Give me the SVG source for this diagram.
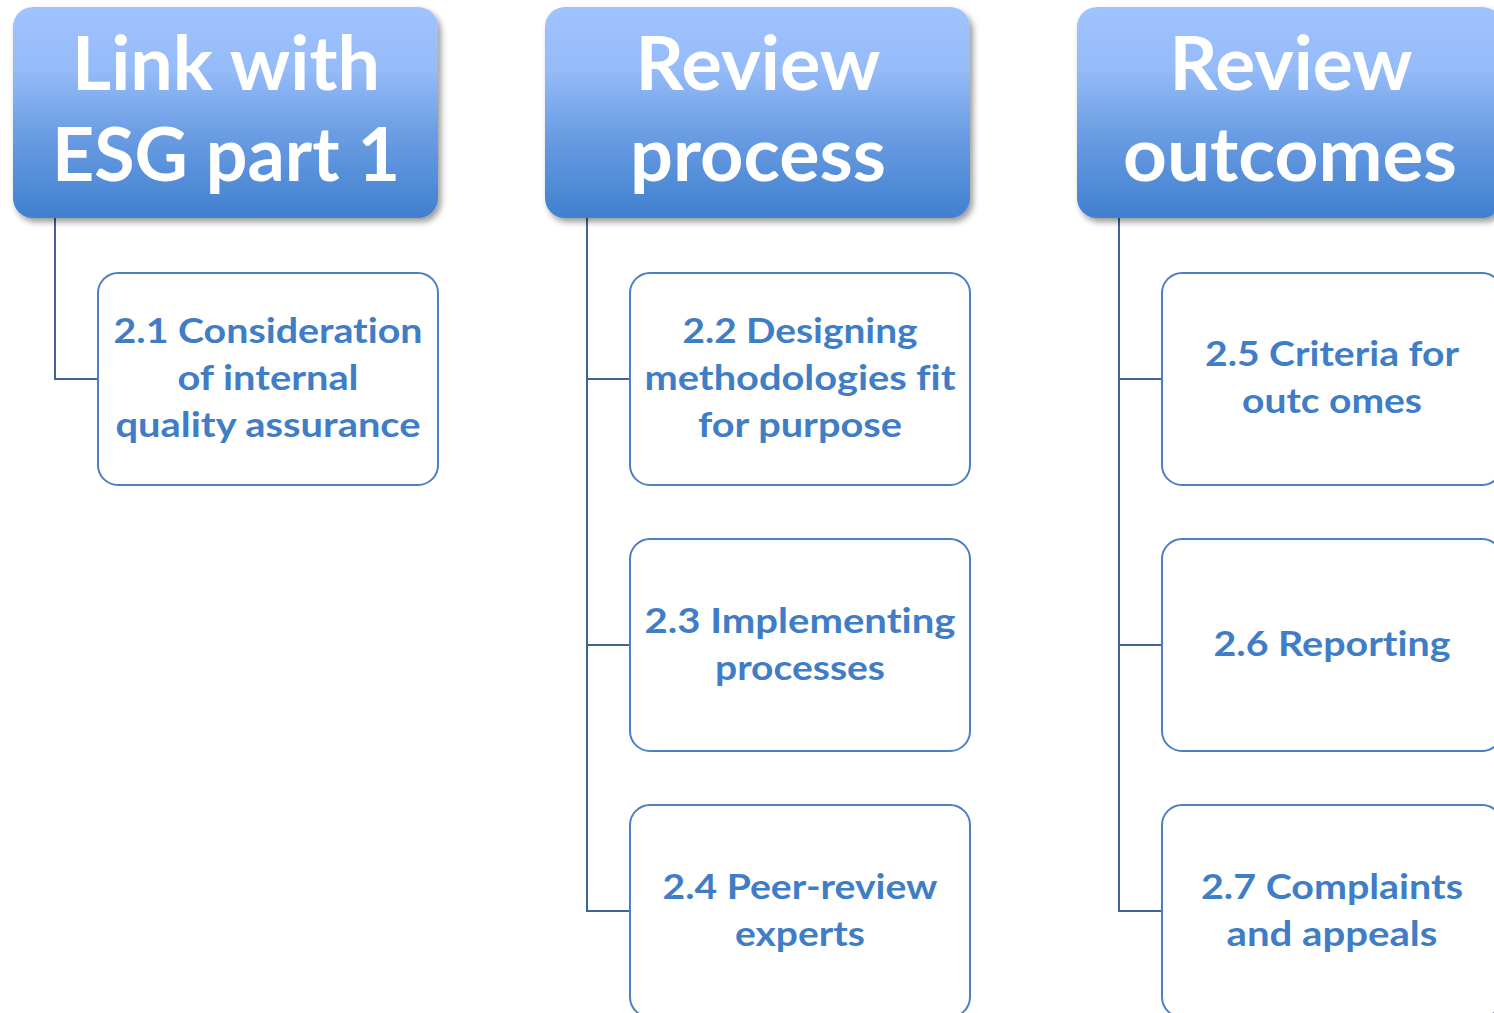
<svg xmlns="http://www.w3.org/2000/svg" width="1494" height="1013" viewBox="0 0 1494 1013">
<defs>
<linearGradient id="hg" x1="0" y1="0" x2="0" y2="1">
<stop offset="0" stop-color="#9fc3ff"/>
<stop offset="0.3" stop-color="#95bbf8"/>
<stop offset="0.6" stop-color="#6b9de3"/>
<stop offset="1" stop-color="#4080cf"/>
</linearGradient>
<filter id="sh" x="-10%" y="-10%" width="125%" height="130%">
<feGaussianBlur in="SourceAlpha" stdDeviation="3"/>
<feOffset dx="3" dy="4" result="b"/>
<feFlood flood-color="#000" flood-opacity="0.4"/>
<feComposite in2="b" operator="in"/>
<feMerge><feMergeNode/><feMergeNode in="SourceGraphic"/></feMerge>
</filter>
</defs>
<style>
text{font-variant-ligatures:none;font-feature-settings:"liga" 0}
.hdr{fill:url(#hg);filter:url(#sh)}
.ht{fill:#fff;font-family:Lato,"Open Sans",sans-serif;font-weight:700;font-size:74px;text-anchor:middle}
.box{fill:#fff;stroke:#4c80c2;stroke-width:2}
.bt{fill:#3f7ec6;font-family:Lato,"Open Sans",sans-serif;font-weight:700;font-size:35px;text-anchor:middle}
.con{fill:none;stroke:#3f6394;stroke-width:2}
</style>
<rect width="1494" height="1013" fill="#fff"/>
<g id="connectors">
<path class="con" d="M55 218 V379 H98"/>
<path class="con" d="M587 218 V911 H630 M587 379 H630 M587 645 H630"/>
<path class="con" d="M1119 218 V911 H1162 M1119 379 H1162 M1119 645 H1162"/>
</g>
<g id="h1">
<rect class="hdr" x="13" y="7" width="425" height="211" rx="20"/>
<text class="ht" x="226" y="90" textLength="308" lengthAdjust="spacingAndGlyphs">Link with</text>
<text class="ht" x="226" y="181" textLength="348" lengthAdjust="spacingAndGlyphs">ESG part 1</text>
</g>
<g id="h2">
<rect class="hdr" x="545" y="7" width="425" height="211" rx="20"/>
<text class="ht" x="758" y="90" textLength="245" lengthAdjust="spacingAndGlyphs">Review</text>
<text class="ht" x="758" y="181" textLength="256" lengthAdjust="spacingAndGlyphs">process</text>
</g>
<g id="h3">
<rect class="hdr" x="1077" y="7" width="425" height="211" rx="20"/>
<text class="ht" x="1291" y="90" textLength="243" lengthAdjust="spacingAndGlyphs">Review</text>
<text class="ht" x="1290" y="181" textLength="334" lengthAdjust="spacingAndGlyphs">outcomes</text>
</g>
<g id="n21">
<rect class="box" x="98" y="273" width="340" height="212" rx="20"/>
<text class="bt" x="268" y="343" textLength="309" lengthAdjust="spacingAndGlyphs">2.1 Consideration</text>
<text class="bt" x="268" y="390" textLength="181" lengthAdjust="spacingAndGlyphs">of internal</text>
<text class="bt" x="268" y="437" textLength="305" lengthAdjust="spacingAndGlyphs">quality assurance</text>
</g>
<g id="n22">
<rect class="box" x="630" y="273" width="340" height="212" rx="20"/>
<text class="bt" x="800" y="343" textLength="235" lengthAdjust="spacingAndGlyphs">2.2 Designing</text>
<text class="bt" x="800" y="390" textLength="311" lengthAdjust="spacingAndGlyphs">methodologies fit</text>
<text class="bt" x="800" y="437" textLength="204" lengthAdjust="spacingAndGlyphs">for purpose</text>
</g>
<g id="n23">
<rect class="box" x="630" y="539" width="340" height="212" rx="20"/>
<text class="bt" x="800" y="633" textLength="311" lengthAdjust="spacingAndGlyphs">2.3 Implementing</text>
<text class="bt" x="800" y="680" textLength="170" lengthAdjust="spacingAndGlyphs">processes</text>
</g>
<g id="n24">
<rect class="box" x="630" y="805" width="340" height="212" rx="20"/>
<text class="bt" x="800" y="899" textLength="275" lengthAdjust="spacingAndGlyphs">2.4 Peer-review</text>
<text class="bt" x="800" y="946" textLength="130" lengthAdjust="spacingAndGlyphs">experts</text>
</g>
<g id="n25">
<rect class="box" x="1162" y="273" width="340" height="212" rx="20"/>
<text class="bt" x="1332" y="366" textLength="254" lengthAdjust="spacingAndGlyphs">2.5 Criteria for</text>
<text class="bt" x="1332" y="413" textLength="180" lengthAdjust="spacingAndGlyphs">outc omes</text>
</g>
<g id="n26">
<rect class="box" x="1162" y="539" width="340" height="212" rx="20"/>
<text class="bt" x="1332" y="656" textLength="237" lengthAdjust="spacingAndGlyphs">2.6 Reporting</text>
</g>
<g id="n27">
<rect class="box" x="1162" y="805" width="340" height="212" rx="20"/>
<text class="bt" x="1332" y="899" textLength="262" lengthAdjust="spacingAndGlyphs">2.7 Complaints</text>
<text class="bt" x="1332" y="946" textLength="211" lengthAdjust="spacingAndGlyphs">and appeals</text>
</g>
</svg>
